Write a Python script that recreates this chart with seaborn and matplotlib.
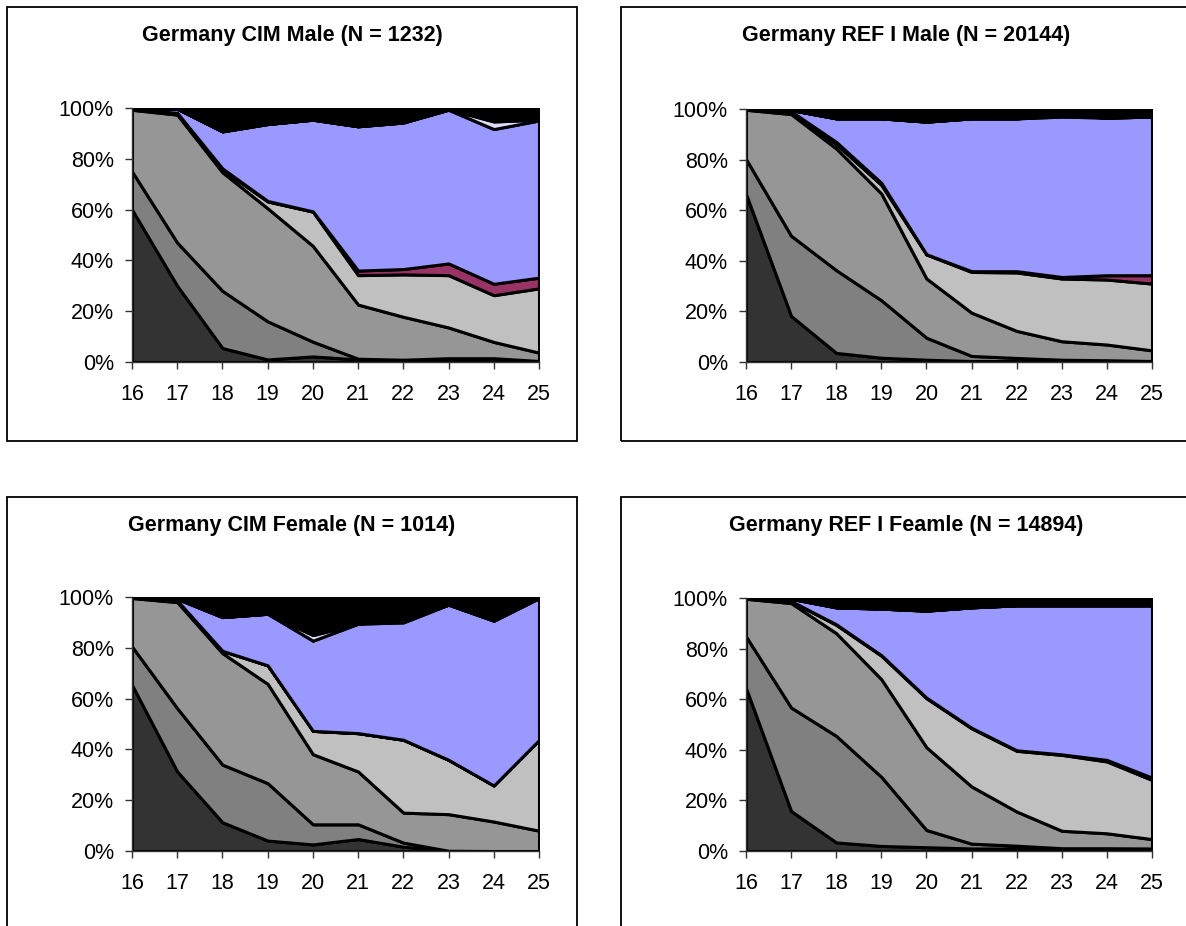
import numpy as np
import matplotlib
matplotlib.use('Agg')
import matplotlib.pyplot as plt
import matplotlib.patches as mpatches
import seaborn as sns

# ================= data =================
ages = [16, 17, 18, 19, 20, 21, 22, 23, 24, 25]

# layer shares in percent, bottom to top
cim_male = [
    [60, 30, 5.5, 1, 2.2, 1, 0.7, 1.3, 1.3, 0.3],
    [15, 17, 22.5, 15, 5.8, 0.3, 0.2, 0.2, 0.2, 0.1],
    [24.3, 50.4, 46.7, 44.5, 37.7, 21.3, 16.9, 12.1, 6.4, 3.3],
    [0.3, 0.6, 1.0, 2.7, 13.5, 11.6, 16.7, 20.6, 18.4, 25.3],
    [0, 0.1, 0.5, 0.2, 0.1, 1.8, 2.1, 4.6, 4.5, 4.2],
    [0.1, 1.6, 14.6, 30.3, 36.1, 56.8, 57.7, 60.5, 60.9, 61.9],
    [0, 0, 0, 0, 0, 0, 0, 0.2, 3.0, 0.3],
    [0.3, 0.3, 9.2, 6.3, 4.6, 7.2, 5.7, 0.5, 5.3, 4.6],
]
refi_male = [
    [66.4, 18.2, 3.6, 1.7, 0.9, 0.4, 0.4, 0.3, 0.3, 0.3],
    [13.8, 31.7, 32.7, 22.7, 8.7, 2.0, 1.2, 0.6, 0.4, 0.1],
    [19.5, 48.1, 48.1, 42.2, 23.4, 17.1, 10.7, 7.3, 6.2, 4.2],
    [0.1, 0.9, 1.7, 3.4, 9.5, 16.1, 23.1, 24.8, 25.7, 26.4],
    [0, 0.2, 0.9, 0.8, 0.1, 0.3, 0.5, 0.6, 1.7, 3.3],
    [0.2, 0.5, 9.3, 25.5, 52.4, 60.4, 60.4, 63.4, 62.3, 62.7],
    [0, 0, 0, 0, 0, 0, 0, 0.6, 0, 0],
    [0, 0.4, 3.7, 3.7, 5, 3.7, 3.7, 2.4, 3.4, 3],
]
cim_female = [
    [65.4, 31.3, 11.3, 4.1, 2.6, 4.7, 1.7, 0.1, 0, 0],
    [15.1, 24.9, 22.7, 22.6, 7.9, 5.8, 1.6, 0, 0, 0],
    [19.1, 41.8, 43.9, 39.1, 27.6, 20.8, 11.8, 14.4, 11.6, 8],
    [0.2, 0.6, 0.9, 7.3, 9.2, 15.1, 28.7, 21.4, 14.2, 35.7],
    [0, 0, 0, 0, 0, 0, 0, 0, 0, 0],
    [0.2, 0.7, 13.3, 20.3, 35.5, 43.1, 46.2, 61.1, 64.9, 55.9],
    [0, 0, 0, 0, 2.2, 0, 1.3, 0, 0, 0],
    [0, 0.7, 7.9, 6.6, 15, 10.5, 8.7, 3, 9.3, 0.4],
]
refi_female = [
    [64.4, 15.8, 3.4, 2, 1.5, 1, 1, 0.8, 0.8, 0.8],
    [20.4, 40.9, 42.1, 27.3, 6.8, 1.9, 1.1, 0.3, 0.3, 0.2],
    [14.9, 41.3, 40.6, 38.6, 32.7, 22.6, 13.5, 6.9, 5.9, 3.7],
    [0.1, 0.7, 3.3, 9.3, 19.4, 23, 24, 30, 28.4, 23.4],
    [0, 0.1, 0.2, 0.2, 0.2, 0.2, 0.2, 0.2, 0.6, 0.9],
    [0.2, 0.9, 6.7, 18.4, 34.4, 47.6, 57.3, 58.9, 61.1, 68.1],
    [0, 0, 0, 0, 0, 0, 0, 0, 0, 0],
    [0, 0.3, 3.7, 4.2, 5, 3.7, 2.9, 2.9, 2.9, 2.9],
]

titles = ['Germany CIM Male (N = 1232)', 'Germany REF I Male (N = 20144)',
          'Germany CIM Female (N = 1014)', 'Germany REF I Feamle (N = 14894)']
layer_colors = ['#333333', '#808080', '#969696', '#C0C0C0',
                '#993366', '#9999FF', '#DDDDF8', '#000000']
ytick_vals = [0, 20, 40, 60, 80, 100]

# ================= style =================
sns.set_theme(style='white')
plt.rcParams['font.family'] = ['Liberation Sans', 'DejaVu Sans']
plt.rcParams['text.color'] = 'black'
plt.rcParams['xtick.color'] = 'black'
plt.rcParams['ytick.color'] = 'black'

W, H = 1186, 926
fig = plt.figure(figsize=(W / 100, H / 100), dpi=100)

# chart area frames (pixel boxes: left, top, right, bottom)
frames = [(7, 7, 577, 441), (621, 7, 1190, 441),
          (7, 497, 577, 930), (621, 497, 1190, 930)]
for l, t, r, b in frames:
    fig.patches.append(mpatches.Rectangle((l / W, 1 - b / H), (r - l) / W, (b - t) / H,
                                          transform=fig.transFigure, fill=False,
                                          edgecolor='black', linewidth=1.3))

# plot areas (pixel): left, top(100%), right, bottom(0%)
areas = [(132, 108, 539, 362), (746, 109, 1152, 362),
         (132, 597, 539, 851), (746, 598, 1152, 851)]
datasets = [cim_male, refi_male, cim_female, refi_female]
title_x = [292, 906, 292, 906]

for (l, t, r, b), data, title, fr, tx in zip(areas, datasets, titles, frames, title_x):
    ax = fig.add_axes([l / W, 1 - b / H, (r - l) / W, (b - t) / H])
    polys = ax.stackplot(ages, np.array(data), colors=layer_colors)
    for p in polys:
        p.set_edgecolor('black')
        p.set_linewidth(2.2)
    ax.set_xlim(16, 25)
    ax.set_ylim(0, 100)
    ax.set_xticks(ages)
    ax.set_yticks(ytick_vals)
    ax.set_yticklabels([f'{v}%' for v in ytick_vals])
    ax.tick_params(axis='both', which='both', direction='out', length=5, width=1,
                   color='#333333', labelcolor='black', labelsize=15.5,
                   bottom=True, left=True)
    ax.tick_params(axis='y', pad=8)
    ax.tick_params(axis='x', pad=11)
    for side in ['top', 'right']:
        ax.spines[side].set_visible(False)
    for side in ['left', 'bottom']:
        ax.spines[side].set_color('#333333')
        ax.spines[side].set_linewidth(1)
    ax.patch.set_alpha(0)
    fig.text(tx / W, 1 - (fr[1] + 28) / H, title, ha='center', va='center',
             fontsize=15.5, fontweight='bold', color='black')

fig.savefig('out.png', dpi=100)
